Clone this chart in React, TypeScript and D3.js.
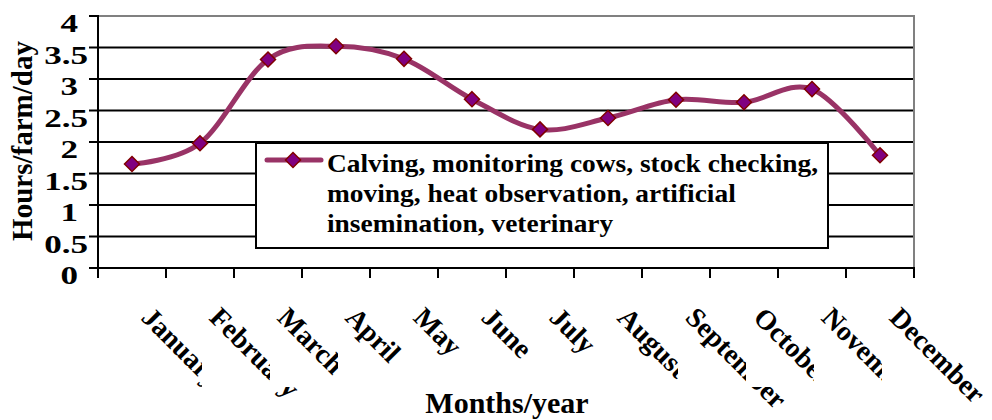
import React, { useEffect, useRef } from 'react';
import * as d3 from 'd3';

const months = [
  'January', 'February', 'March', 'April', 'May', 'June',
  'July', 'August', 'September', 'October', 'November', 'December',
];
const hours = [1.65, 1.98, 3.31, 3.52, 3.32, 2.68, 2.2, 2.38, 2.67, 2.63, 2.84, 1.79];
const yTicks = [0, 0.5, 1, 1.5, 2, 2.5, 3, 3.5, 4];
// labels that were cut off in the original export
const clippedMonths = ['January', 'February', 'March', 'August', 'September', 'October', 'November'];
// of those, labels whose tail still shows below the cut
const tailMonths = ['January', 'February', 'September'];
const legendLines = [
  'Calving, monitoring cows, stock checking,',
  'moving, heat observation, artificial',
  'insemination, veterinary',
];
const yTitle = 'Hours/farm/day';
const xTitle = 'Months/year';

const width = 992;
const height = 420;
const FONT = '"Liberation Serif", "Times New Roman", serif';

const App: React.FC = () => {
  const svgRef = useRef<SVGSVGElement>(null);

  useEffect(() => {
    if (!svgRef.current) return;
    const svg = d3.select(svgRef.current);
    svg.selectAll('*').remove();

    const plot = { left: 98, right: 914, top: 16, bottom: 268 };

    const x = d3.scaleBand<string>().domain(months).range([plot.left, plot.right]);
    const y = d3.scaleLinear().domain([0, 4]).range([plot.bottom, plot.top]);
    const cx = (m: string) => (x(m) as number) + x.bandwidth() / 2;

    const defs = svg.append('defs');

    // grid lines
    svg.append('g')
      .selectAll('line')
      .data(yTicks.filter((t) => t > 0 && t < 4))
      .enter()
      .append('line')
      .attr('x1', plot.left - 9)
      .attr('x2', plot.right)
      .attr('y1', (d) => y(d))
      .attr('y2', (d) => y(d))
      .attr('stroke', '#000')
      .attr('stroke-width', 2);

    // plot border (top/right grey)
    svg.append('path')
      .attr('d', `M${plot.left},${y(4)}H${plot.right}V${plot.bottom}`)
      .attr('fill', 'none')
      .attr('stroke', '#808080')
      .attr('stroke-width', 2);

    // y tick marks at 0 and 4
    svg.append('g')
      .selectAll('line')
      .data([0, 4])
      .enter()
      .append('line')
      .attr('x1', plot.left - 9)
      .attr('x2', plot.left)
      .attr('y1', (d) => y(d))
      .attr('y2', (d) => y(d))
      .attr('stroke', '#000')
      .attr('stroke-width', 2);

    // axes
    svg.append('line')
      .attr('x1', plot.left).attr('x2', plot.left)
      .attr('y1', plot.top - 1).attr('y2', plot.bottom + 1)
      .attr('stroke', '#000').attr('stroke-width', 2);
    svg.append('line')
      .attr('x1', plot.left - 9).attr('x2', plot.right + 1)
      .attr('y1', plot.bottom).attr('y2', plot.bottom)
      .attr('stroke', '#000').attr('stroke-width', 2);

    // x ticks at band boundaries
    const bounds = months.map((m) => x(m) as number).concat([plot.right]);
    svg.append('g')
      .selectAll('line')
      .data(bounds)
      .enter()
      .append('line')
      .attr('x1', (d) => d).attr('x2', (d) => d)
      .attr('y1', plot.bottom).attr('y2', plot.bottom + 10)
      .attr('stroke', '#000').attr('stroke-width', 2);

    // y tick labels
    svg.append('g')
      .selectAll('g')
      .data(yTicks)
      .enter()
      .append('g')
      .attr('transform', (d) => `translate(${Number.isInteger(d) ? 78 : 88},${y(d) + 16}) scale(1.35,1)`)
      .append('text')
      .attr('text-anchor', 'end')
      .style('font-family', FONT)
      .style('font-weight', 'bold')
      .style('font-size', '26px')
      .text((d) => String(d));

    // y title
    svg.append('text')
      .attr('transform', `translate(32,141) rotate(-90)`)
      .attr('text-anchor', 'middle')
      .style('font-family', FONT)
      .style('font-weight', 'bold')
      .style('font-size', '29px')
      .text(yTitle);

    // month labels, rotated
    months.forEach((m, i) => {
      const g = svg.append('g');
      if (clippedMonths.includes(m)) {
        const id = `clip-${i}`;
        const cp = defs.append('clipPath').attr('id', id).attr('clipPathUnits', 'userSpaceOnUse');
        cp.append('rect').attr('x', 0).attr('y', 0).attr('width', cx(m) + 70).attr('height', height);
        if (tailMonths.includes(m)) {
          cp.append('rect').attr('x', 0).attr('y', 387).attr('width', width).attr('height', height - 387);
        }
        g.attr('clip-path', `url(#${id})`);
      }
      g.append('text')
        .attr('transform', `translate(${cx(m) + 8},319) rotate(45)`)
        .style('font-family', FONT)
        .style('font-weight', 'bold')
        .style('font-size', '28px')
        .text(m);
    });

    // x title
    svg.append('text')
      .attr('x', 507)
      .attr('y', 413)
      .attr('text-anchor', 'middle')
      .style('font-family', FONT)
      .style('font-weight', 'bold')
      .style('font-size', '30px')
      .text(xTitle);

    // legend box
    const legend = svg.append('g');
    legend.append('rect')
      .attr('x', 256).attr('y', 143)
      .attr('width', 572).attr('height', 105)
      .attr('fill', '#fff')
      .attr('stroke', '#000')
      .attr('stroke-width', 2);

    // series line
    const line = d3.line<number>()
      .x((_, i) => cx(months[i]))
      .y((d) => y(d))
      .curve(d3.curveCatmullRom.alpha(0));

    svg.append('path')
      .datum(hours)
      .attr('fill', 'none')
      .attr('stroke', '#993366')
      .attr('stroke-width', 5)
      .attr('stroke-linecap', 'round')
      .attr('d', line);

    const diamond = (r: number) => `M0,${-r}L${r},0L0,${r}L${-r},0Z`;

    svg.append('g')
      .selectAll('path')
      .data(hours)
      .enter()
      .append('path')
      .attr('transform', (d, i) => `translate(${cx(months[i])},${y(d)})`)
      .attr('d', diamond(7.5))
      .attr('fill', '#800080')
      .attr('stroke', '#800000')
      .attr('stroke-width', 1.5);

    // legend entry
    legend.append('line')
      .attr('x1', 267).attr('x2', 321)
      .attr('y1', 160).attr('y2', 160)
      .attr('stroke', '#993366')
      .attr('stroke-width', 5)
      .attr('stroke-linecap', 'round');
    legend.append('path')
      .attr('transform', 'translate(293,160)')
      .attr('d', diamond(7.5))
      .attr('fill', '#800080')
      .attr('stroke', '#800000')
      .attr('stroke-width', 1.5);
    svg.node()!.appendChild(legend.node()!);

    legend.append('g')
      .selectAll('g')
      .data(legendLines)
      .enter()
      .append('g')
      .attr('transform', (_, i) => `translate(327,${171.5 + i * 30.3}) scale(1.075,1)`)
      .append('text')
      .style('font-family', FONT)
      .style('font-weight', 'bold')
      .style('font-size', '25.5px')
      .text((d) => d);
  }, []);

  return (
    <svg
      ref={svgRef}
      width={width}
      height={height}
      viewBox={`0 0 ${width} ${height}`}
      style={{ position: 'absolute', left: 0, top: 0, background: '#fff' }}
    />
  );
};

export default App;
